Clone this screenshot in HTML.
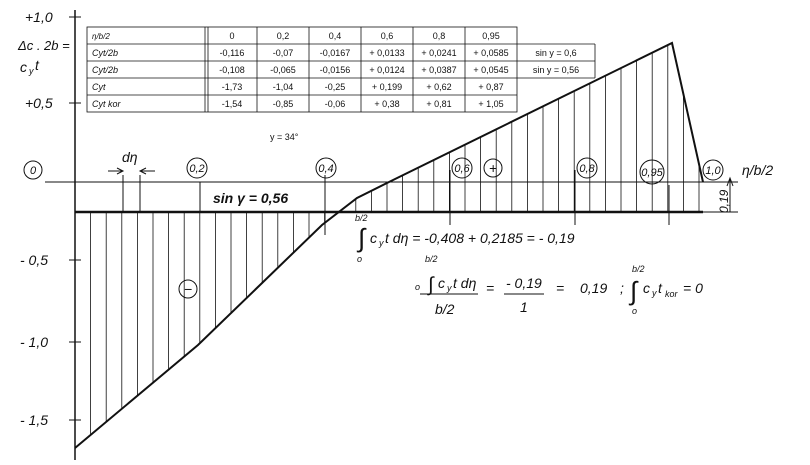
<!DOCTYPE html>
<html><head><meta charset="utf-8"><style>
html,body{margin:0;padding:0;background:#fff;width:810px;height:465px;overflow:hidden}
svg{display:block}
.h{font-family:"Liberation Sans",sans-serif;font-style:italic;fill:#111}
.t{font-family:"Liberation Sans",sans-serif;font-size:9px;fill:#111}
</style></head><body>
<svg id="s" width="810" height="465" viewBox="0 0 810 465" xmlns="http://www.w3.org/2000/svg">
<g stroke="#111" fill="none">
<!-- y axis -->
<line x1="75" y1="10" x2="75" y2="460" stroke-width="1.5"/>
<line x1="69" y1="17" x2="81" y2="17"/>
<line x1="69" y1="103" x2="81" y2="103"/>
<line x1="69" y1="260" x2="81" y2="260"/>
<line x1="69" y1="342" x2="81" y2="342"/>
<line x1="69" y1="420" x2="81" y2="420"/>
<!-- eta axis -->
<line x1="45" y1="182" x2="738" y2="182" stroke-width="1"/>
<!-- thick baseline -->
<line x1="75" y1="212" x2="703" y2="212" stroke-width="2.5"/>
<!-- curve -->
<polyline points="75,448 198,345 322,225 357,198 389,182 672,43 703,182" stroke-width="2"/>
<!-- 0.19 dim -->
<line x1="730" y1="212" x2="730" y2="178"/>
<polyline points="727,186 730,178 733,186"/>
<line x1="703" y1="212" x2="738" y2="212"/>
<!-- d eta -->
<line x1="123" y1="175" x2="123" y2="212"/>
<line x1="140" y1="175" x2="140" y2="212"/>
<line x1="108" y1="171" x2="123" y2="171"/><polyline points="117,168 123,171 117,174"/>
<line x1="140" y1="171" x2="155" y2="171"/><polyline points="146,168 140,171 146,174"/>
<!-- extended station lines -->
<line x1="325" y1="175" x2="325" y2="235"/>
<line x1="450" y1="170" x2="450" y2="225"/>
<line x1="575" y1="170" x2="575" y2="225"/>
<line x1="669" y1="185" x2="669" y2="225"/>
<line x1="200" y1="182" x2="200" y2="212"/>
<g id="hatch" stroke-width="0.8"></g>
<!-- circles -->
<circle cx="33" cy="170" r="9"/>
<circle cx="197" cy="168" r="10"/>
<circle cx="326" cy="168" r="10"/>
<circle cx="462" cy="168" r="10"/>
<circle cx="493" cy="168" r="9"/>
<circle cx="587" cy="168" r="10"/>
<circle cx="652" cy="172" r="12"/>
<circle cx="713" cy="170" r="10"/>
<circle cx="188" cy="289" r="9"/>
<!-- table -->
<g stroke-width="0.8">
<rect x="87" y="27" width="430" height="85"/>
<line x1="87" y1="44" x2="595" y2="44"/>
<line x1="87" y1="61" x2="595" y2="61"/>
<line x1="87" y1="78" x2="595" y2="78"/>
<line x1="87" y1="95" x2="517" y2="95"/>
<line x1="595" y1="44" x2="595" y2="78"/>
<line x1="205" y1="27" x2="205" y2="112"/><line x1="208" y1="27" x2="208" y2="112"/>
<line x1="257" y1="27" x2="257" y2="112"/>
<line x1="309" y1="27" x2="309" y2="112"/>
<line x1="361" y1="27" x2="361" y2="112"/>
<line x1="413" y1="27" x2="413" y2="112"/>
<line x1="465" y1="27" x2="465" y2="112"/>
</g>
</g>
<g class="t">
<text x="92" y="39" font-style="italic" font-size="8">η/b/2</text>
<text x="92" y="56" font-style="italic">Cyt/2b</text>
<text x="92" y="73" font-style="italic">Cyt/2b</text>
<text x="92" y="90" font-style="italic">Cyt</text>
<text x="92" y="107" font-style="italic">Cyt kor</text>
<g text-anchor="middle">
<text x="232" y="39">0</text><text x="283" y="39">0,2</text><text x="335" y="39">0,4</text><text x="387" y="39">0,6</text><text x="439" y="39">0,8</text><text x="491" y="39">0,95</text>
<text x="232" y="56">-0,116</text><text x="283" y="56">-0,07</text><text x="335" y="56">-0,0167</text><text x="387" y="56">+ 0,0133</text><text x="439" y="56">+ 0,0241</text><text x="491" y="56">+ 0,0585</text><text x="556" y="56">sin y = 0,6</text>
<text x="232" y="73">-0,108</text><text x="283" y="73">-0,065</text><text x="335" y="73">-0,0156</text><text x="387" y="73">+ 0,0124</text><text x="439" y="73">+ 0,0387</text><text x="491" y="73">+ 0,0545</text><text x="556" y="73">sin y = 0,56</text>
<text x="232" y="90">-1,73</text><text x="283" y="90">-1,04</text><text x="335" y="90">-0,25</text><text x="387" y="90">+ 0,199</text><text x="439" y="90">+ 0,62</text><text x="491" y="90">+ 0,87</text>
<text x="232" y="107">-1,54</text><text x="283" y="107">-0,85</text><text x="335" y="107">-0,06</text><text x="387" y="107">+ 0,38</text><text x="439" y="107">+ 0,81</text><text x="491" y="107">+ 1,05</text>
</g>
<text x="270" y="140">y = 34°</text>
</g>
<g class="h" font-size="14">
<text x="25" y="22">+1,0</text>
<text x="18" y="50" font-size="13">Δc . 2b =</text>
<text x="20" y="72">c</text><text x="29" y="74" font-size="9">y</text><text x="35" y="70">t</text>
<text x="25" y="108">+0,5</text>
<text x="20" y="265">- 0,5</text>
<text x="20" y="347">- 1,0</text>
<text x="20" y="425">- 1,5</text>
</g>
<g class="h" font-size="11" text-anchor="middle">
<text x="33" y="174">0</text><text x="197" y="172">0,2</text><text x="326" y="172">0,4</text><text x="462" y="172">0,6</text><text x="493" y="173" font-size="14">+</text><text x="587" y="172">0,8</text><text x="652" y="176">0,95</text><text x="713" y="174">1,0</text>
<text x="188" y="294" font-size="14">−</text>
</g>
<g class="h" font-size="14">
<text x="122" y="162">dη</text>
<text x="742" y="175">η/b/2</text>
<text x="213" y="203" font-weight="bold">sin γ = 0,56</text>
<text transform="translate(728,213) rotate(-90)" font-size="12">0,19</text>
<text x="355" y="221" font-size="9">b/2</text>
<text x="358" y="247" font-size="26" font-style="normal">∫</text>
<text x="370" y="243">c</text><text x="379" y="246" font-size="9">y</text><text x="385" y="243">t dη  = -0,408 + 0,2185  = - 0,19</text>
<text x="357" y="262" font-size="9">o</text>
<text x="425" y="262" font-size="9">b/2</text>
<text x="415" y="290" font-size="9">o</text>
<text x="428" y="291" font-size="20" font-style="normal">∫</text>
<text x="438" y="288">c</text><text x="447" y="291" font-size="9">y</text><text x="453" y="288">t dη</text>
<line x1="420" y1="294" x2="478" y2="294" stroke="#111"/>
<text x="435" y="314">b/2</text>
<text x="486" y="293">=</text>
<text x="506" y="288">- 0,19</text>
<line x1="504" y1="294" x2="544" y2="294" stroke="#111"/>
<text x="520" y="312">1</text>
<text x="556" y="293">=</text>
<text x="580" y="293">0,19</text>
<text x="620" y="293">;</text>
<text x="632" y="272" font-size="9">b/2</text>
<text x="630" y="300" font-size="26" font-style="normal">∫</text>
<text x="643" y="293">c</text><text x="652" y="296" font-size="9">y</text><text x="658" y="293">t</text><text x="665" y="297" font-size="9">kor</text><text x="683" y="293"> = 0</text>
<text x="632" y="314" font-size="9">o</text>
</g>
</svg>
<script>
var P=[[75,448],[198,345],[322,225],[357,198],[389,182],[672,43],[703,182]];
function y(x){for(var i=0;i<P.length-1;i++){if(x>=P[i][0]&&x<=P[i+1][0]){var t=(x-P[i][0])/(P[i+1][0]-P[i][0]);return P[i][1]+t*(P[i+1][1]-P[i][1]);}}return 212;}
var g=document.getElementById('hatch'),s='';
for(var x=75;x<=700;x+=15.6){var yy=y(x);s+='<line x1="'+x.toFixed(1)+'" y1="'+yy.toFixed(1)+'" x2="'+x.toFixed(1)+'" y2="212"/>';}
g.innerHTML=s;
</script>
</body></html>
